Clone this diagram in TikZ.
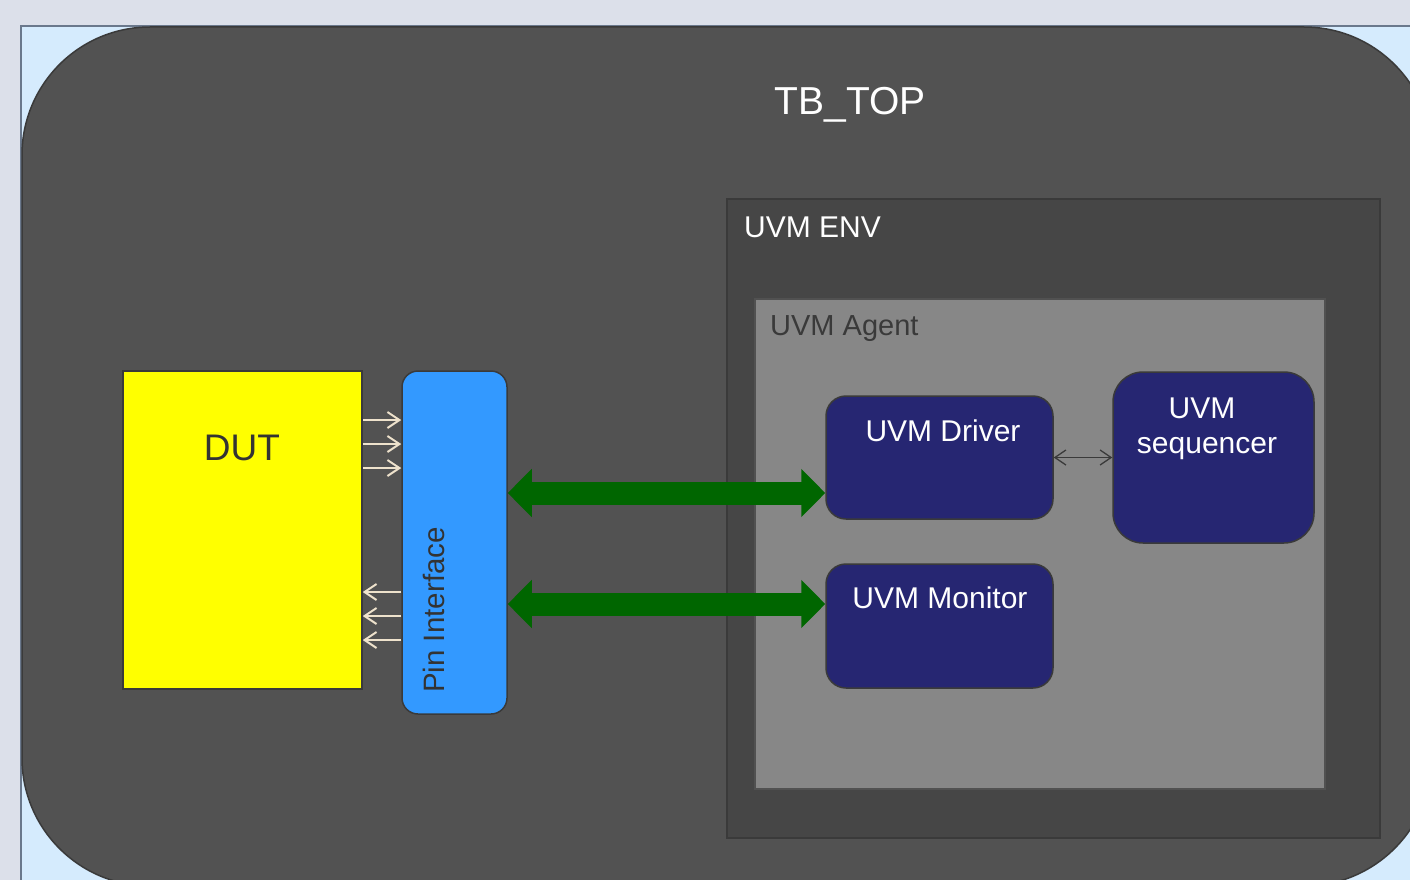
\documentclass[tikz,border=0pt]{standalone}
\usepackage{fontspec}
\setmainfont{Liberation Sans}
\usetikzlibrary{arrows.meta,calc}
\definecolor{bgc}{HTML}{DCE0EA}
\definecolor{lblue}{HTML}{D5EBFD}
\definecolor{slate}{HTML}{6A788C}
\definecolor{tbc}{HTML}{525252}
\definecolor{envc}{HTML}{464646}
\definecolor{agc}{HTML}{878787}
\definecolor{edgec}{HTML}{3A3A3A}
\definecolor{navy}{HTML}{262672}
\definecolor{pinc}{HTML}{3399FF}
\definecolor{dutc}{RGB}{255,255,0}
\definecolor{gr}{HTML}{006600}
\definecolor{beige}{HTML}{EEE2CC}
\definecolor{txtd}{HTML}{333333}
\tikzset{
  boxshape/.style={draw=edgec, line width=1.5pt, inner sep=0pt, minimum width=#1},
  navybox/.style={boxshape=227pt, fill=navy, rounded corners=20pt},
  lbl/.style={inner sep=0pt, anchor=base},
  garrow/.style={draw=gr, line width=23pt, {Triangle[length=24pt,width=47pt]}-{Triangle[length=24pt,width=47pt]}},
  sig/.style={draw=beige, line width=2pt, -{Straight Barb[length=12pt,width=16pt,line width=2pt]}},
  thin/.style={draw=edgec, line width=1.3pt, {Straight Barb[length=11pt,width=15pt]}-{Straight Barb[length=11pt,width=15pt]}}
}
\begin{document}
\begin{tikzpicture}[x=1pt,y=-1pt]
\useasboundingbox (0,0) rectangle (1410,880);
\clip (0,0) rectangle (1410,880);
\fill[bgc] (0,0) rectangle (1410,880);
\fill[lblue] (21,26) rectangle (1420,890);
\draw[slate, line width=1.5pt] (21,890) -- (21,26) -- (1420,26);

% containers
\node[boxshape=1410pt, minimum height=859pt, fill=tbc, rounded corners=128pt] (tb) at (727,456.5) {};
\node[boxshape=653pt, minimum height=639pt, fill=envc] (env) at (1053.5,518.5) {};
\node[boxshape=570pt, minimum height=490pt, fill=agc, draw=agc!60!black] (agent) at (1040,544) {};

% blocks
\node[boxshape=239pt, minimum height=318pt, fill=dutc] (dut) at (242.5,530) {};
\node[boxshape=105pt, minimum height=343pt, fill=pinc, rounded corners=16pt] (pin) at (454.5,542.5) {};
\node[navybox, minimum height=123pt] (drv) at (939.5,457.5) {};
\node[navybox, minimum height=124pt] (mon) at (939.5,626) {};
\node[boxshape=201pt, minimum height=171pt, fill=navy, rounded corners=30pt] (seq) at (1213.5,457.5) {};

% labels
\node[lbl, text=white, font=\fontsize{39}{45}\selectfont] (tbl) at (850,115) {TB\_TOP};
\node[lbl, anchor=base west, text=white, font=\fontsize{30}{36}\selectfont] (envl) at (744,237) {UVM ENV};
\node[lbl, anchor=base west, text=edgec, font=\fontsize{29}{35}\selectfont] (agl) at (770,335) {UVM Agent};
\node[lbl, text=txtd, font=\fontsize{37}{44}\selectfont] (dutl) at (242,460) {DUT};
\node[lbl, text=txtd, rotate=90, font=\fontsize{29.5}{35}\selectfont] (pinl) at (444,610) {Pin Interface};
\node[lbl, text=white, font=\fontsize{30}{36}\selectfont] (drvl) at (943,441) {UVM Driver};
\node[lbl, text=white, font=\fontsize{30}{36}\selectfont] (monl) at (940,608) {UVM Monitor};
\node[lbl, text=white, font=\fontsize{30}{36}\selectfont] (seql1) at (1202,418) {UVM};
\node[lbl, text=white, font=\fontsize{30}{36}\selectfont] (seql2) at (1207,453) {sequencer};

% connector levels
\coordinate (a1) at (0,420);
\coordinate (a2) at (0,444);
\coordinate (a3) at (0,468);
\coordinate (b1) at (0,592);
\coordinate (b2) at (0,616);
\coordinate (b3) at (0,640);
\coordinate (g1) at (0,493);
\coordinate (g2) at (0,604);

% DUT <-> pin signals
\draw[sig] (dut.east |- a1) -- (pin.west |- a1);
\draw[sig] (dut.east |- a2) -- (pin.west |- a2);
\draw[sig] (dut.east |- a3) -- (pin.west |- a3);
\draw[sig] (pin.west |- b1) -- (dut.east |- b1);
\draw[sig] (pin.west |- b2) -- (dut.east |- b2);
\draw[sig] (pin.west |- b3) -- (dut.east |- b3);

% pin <-> agent components
\draw[garrow] (pin.east |- g1) -- (drv.west |- g1);
\draw[garrow] (pin.east |- g2) -- (mon.west |- g2);

% driver <-> sequencer
\draw[thin] (drv.east) -- (seq.west);
\end{tikzpicture}
\end{document}
